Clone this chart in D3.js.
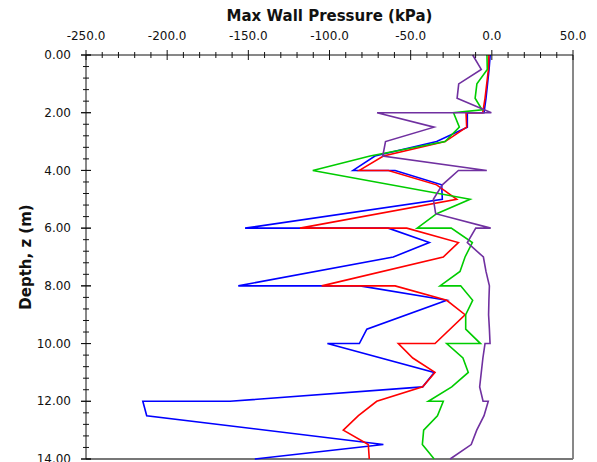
<!DOCTYPE html>
<html>
<head>
<meta charset="utf-8">
<script src="https://cdn.jsdelivr.net/npm/d3@7"></script>
<style>
    body { margin: 0; background: #fff; }
    text { font-family: "DejaVu Sans", Verdana, sans-serif; fill: #111; }
</style>
</head>
<body>
<div id="chart"></div>
<script>
// [depth (m), max wall pressure (kPa)]
const blue = [
    [0, -1.0], [0.5, -1.7], [1.5, -3.6], [2.0, -4.8], [2.0, -15.1], [2.5, -15.1],
    [3.0, -34], [3.5, -72], [4.0, -85.5], [4.0, -59.6], [4.5, -30.9], [5.0, -30.5],
    [6.0, -152], [6.0, -63.8], [6.5, -38.5], [7.0, -60.7], [8.0, -156.2], [8.0, -81.2],
    [8.5, -27.8], [9.5, -77], [10.0, -81.6], [10.0, -101.3], [11.0, -35.5], [11.5, -42.6],
    [12.0, -161.3], [12.0, -215], [12.5, -212.6], [13.5, -66.8], [14.0, -146]
];
const red = [
    [0, -1.8], [0.5, -2.1], [1.5, -4.2], [2.0, -5.6], [2.0, -15.9], [2.5, -15.5],
    [3.0, -28.8], [3.5, -66.8], [4.0, -81.6], [4.0, -63.7], [4.5, -34], [5.0, -21.6],
    [6.0, -118.2], [6.0, -52.4], [6.5, -20.6], [7.0, -29.9], [8.0, -104.8], [8.0, -59.6],
    [8.5, -27.8], [9.0, -16.5], [10.0, -35], [10.0, -57.6], [10.5, -48.7], [11.0, -35],
    [11.5, -42.6], [12.0, -70.9], [12.5, -82.2], [13.0, -91.5], [13.5, -76.1], [14.0, -75.5]
];
const green = [
    [0, -3.0], [0.5, -2.8], [1.0, -9.2], [1.5, -10.3], [1.9, -6.0], [2.0, -23.6], [2.5, -20.0],
    [3.0, -28.8], [3.5, -75], [4.0, -110.3], [5.0, -13.4], [5.5, -34], [6.0, -46],
    [6.0, -25], [6.5, -12], [7.0, -16.5], [7.5, -19.6], [8.0, -31.9], [8.0, -19.2],
    [8.5, -11.8], [9.0, -16.1], [9.5, -16.1], [10.0, -7], [10.0, -27.8], [10.5, -17.8],
    [11.0, -14.5], [11.5, -24.7], [12.0, -39.1], [12.0, -29.9], [12.5, -33.5], [13.0, -42],
    [13.5, -42.8], [14.0, -35.5]
];
const purple = [
    [0, -11.8], [0.5, -6.5], [1.0, -20.4], [1.5, -21.4], [2.0, -0.3], [2.0, -70.7],
    [2.5, -35.6], [3.0, -65.5], [3.5, -67.2], [4.0, -3.1], [4.0, -20.6], [4.5, -30.5],
    [5.0, -36], [5.5, -34.6], [6.0, -0.7], [6.0, -9.9], [6.5, -15.1], [7.0, -5.2],
    [7.5, -3.6], [8.0, -1.5], [8.5, -1.8], [9.0, -2.0], [9.5, -1.5], [10.0, -1.1],
    [10.0, -4.2], [10.5, -5.5], [11.0, -6.5], [11.5, -7.5], [12.0, -5.4], [12.0, -2.2],
    [12.5, -4.8], [13.0, -9.3], [13.5, -12.7], [14.0, -25.7]
];
const seriesColors = ["#0000ff", "#ff0000", "#00cc00", "#7030a0"];

const xTicks = [-250, -200, -150, -100, -50, 0, 50];
const yTicks = [0, 2, 4, 6, 8, 10, 12, 14];

const width = 597, height = 462;
const margin = {left: 86, top: 55, right: 24, bottom: 3};

const x = d3.scaleLinear().domain([-250, 50]).range([margin.left, width - margin.right]);
const y = d3.scaleLinear().domain([0, 14]).range([margin.top, height - margin.bottom]);

const svg = d3.select("#chart")
    .append("svg")
    .attr("width", width)
    .attr("height", height);

// frame: right and bottom edges
svg.append("line")
    .attr("x1", x(50)).attr("x2", x(50))
    .attr("y1", y(0)).attr("y2", y(14))
    .attr("stroke", "#111").attr("stroke-width", 1);
svg.append("line")
    .attr("x1", x(-250)).attr("x2", x(50))
    .attr("y1", y(14)).attr("y2", y(14))
    .attr("stroke", "#777").attr("stroke-width", 2);

// series
const line = d3.line()
    .x(d => x(d[1]))
    .y(d => y(d[0]));

svg.selectAll("path.series")
    .data([blue, red, green, purple])
    .enter()
    .append("path")
    .attr("class", "series")
    .attr("d", line)
    .attr("fill", "none")
    .attr("stroke", (d, i) => seriesColors[i])
    .attr("stroke-width", 1.6)
    .attr("stroke-linejoin", "miter");

// top axis (ticks cross the line)
const xMinor = d3.range(-250, 50.1, 10);
svg.append("line")
    .attr("x1", x(-250)).attr("x2", x(50))
    .attr("y1", y(0)).attr("y2", y(0))
    .attr("stroke", "#111");
svg.selectAll("line.xtick")
    .data(xMinor)
    .enter()
    .append("line")
    .attr("class", "xtick")
    .attr("x1", d => x(d)).attr("x2", d => x(d))
    .attr("y1", d => y(0) - (d % 50 === 0 ? 5 : 3))
    .attr("y2", d => y(0) + (d % 50 === 0 ? 5 : 3))
    .attr("stroke", "#111");
svg.selectAll("text.xlabel")
    .data(xTicks)
    .enter()
    .append("text")
    .attr("class", "xlabel")
    .attr("x", d => x(d))
    .attr("y", 40)
    .attr("text-anchor", "middle")
    .style("font-size", "12px")
    .text(d => d.toFixed(1));

// left axis
const yMinor = d3.range(0, 14.01, 0.4).concat(yTicks);
svg.append("line")
    .attr("x1", x(-250)).attr("x2", x(-250))
    .attr("y1", y(0)).attr("y2", y(14))
    .attr("stroke", "#111");
svg.selectAll("line.ytick")
    .data(yMinor)
    .enter()
    .append("line")
    .attr("class", "ytick")
    .attr("y1", d => y(d)).attr("y2", d => y(d))
    .attr("x1", d => x(-250) - (d % 2 === 0 ? 5 : 3))
    .attr("x2", d => x(-250) + (d % 2 === 0 ? 5 : 3))
    .attr("stroke", "#111");
svg.selectAll("text.ylabel")
    .data(yTicks)
    .enter()
    .append("text")
    .attr("class", "ylabel")
    .attr("x", 71)
    .attr("y", d => y(d))
    .attr("dy", "0.35em")
    .attr("text-anchor", "end")
    .style("font-size", "12px")
    .text(d => d.toFixed(2));

// axis titles
svg.append("text")
    .attr("x", (x(-250) + x(50)) / 2)
    .attr("y", 21)
    .attr("text-anchor", "middle")
    .style("font-size", "15px")
    .style("font-weight", "bold")
    .text("Max Wall Pressure (kPa)");

svg.append("text")
    .attr("transform", `translate(31, ${(y(0) + y(14)) / 2}) rotate(-90)`)
    .attr("text-anchor", "middle")
    .style("font-size", "15px")
    .style("font-weight", "bold")
    .text("Depth, z (m)");
</script>
</body>
</html>
